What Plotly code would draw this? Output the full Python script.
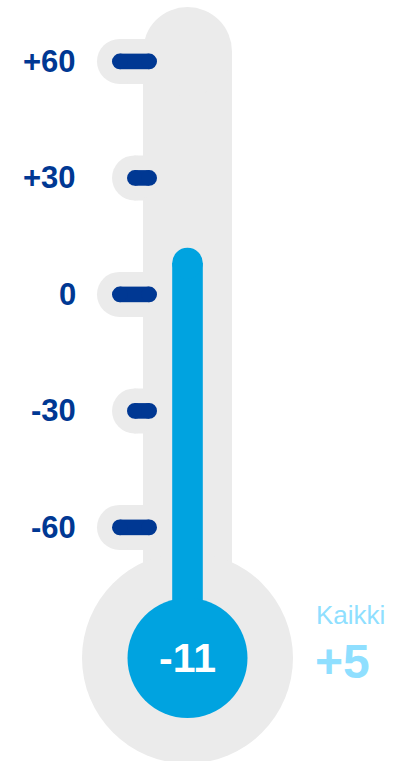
import plotly.graph_objects as go

# ---- data ----
tick_values = [60, 30, 0, -30, -60]
tick_labels = ["+60", "+30", "0", "-30", "-60"]
tick_long = [True, False, True, False, True]
mercury_level = 12          # top of the blue column (scale units)
main_value_label = "-11"
side_title = "Kaikki"
side_value_label = "+5"

# ---- geometry (pixels -> scale units) ----
W, H = 393, 761
K = 3.883            # pixels per scale unit
CX = 187.5           # thermometer centre (px)
Y0 = 294.4           # pixel row of scale value 0

def ux(px):
    return (px - CX) / K

def uy(py):
    return (Y0 - py) / K

def r(px):
    return px / K

GRAY = "#ebebeb"
BLUE = "#00a3e0"
DARK = "#003893"
LIGHT = "#8fdfff"

shapes = []

def circle(cx, cy, rad, color):
    shapes.append(dict(type="circle", xref="x", yref="y",
                       x0=cx - rad, x1=cx + rad, y0=cy - rad, y1=cy + rad,
                       fillcolor=color, line=dict(width=0), layer="below"))

def rect(x0, x1, y0, y1, color):
    shapes.append(dict(type="rect", xref="x", yref="y",
                       x0=x0, x1=x1, y0=y0, y1=y1,
                       fillcolor=color, line=dict(width=0), layer="below"))

# gray body: tube with round top + bulb
tube_half = r(44.5)
top_cap_y = uy(51.5)
bulb_y = uy(658)
rect(-tube_half, tube_half, bulb_y, top_cap_y, GRAY)
circle(0, top_cap_y, tube_half, GRAY)
circle(0, bulb_y, r(105.5), GRAY)

# tick mark pills (gray halo + dark pill)
for t, lng in zip(tick_values, tick_long):
    left = ux(97) if lng else ux(112)
    halo_r = r(22.5)
    rect(left + halo_r, 0, t - halo_r, t + halo_r, GRAY)
    circle(left + halo_r, t, halo_r, GRAY)
    pr = r(7.8)
    dl = left + r(15) + pr
    dr = ux(157) - pr
    rect(dl, dr, t - pr, t + pr, DARK)
    circle(dl, t, pr, DARK)
    circle(dr, t, pr, DARK)

# mercury column
col_half = r(15.3)
cap_center = mercury_level - col_half
rect(-col_half, col_half, bulb_y, cap_center, BLUE)
circle(0, cap_center, col_half, BLUE)
circle(0, bulb_y, r(60), BLUE)

annotations = []
for t, lab in zip(tick_values, tick_labels):
    annotations.append(dict(x=ux(78), y=t, xref="x", yref="y", text=lab,
                            showarrow=False, xanchor="right", yanchor="middle",
                            font=dict(family="Liberation Sans, Arial", size=31,
                                      color=DARK, weight="bold")))

annotations.append(dict(x=0, y=bulb_y, xref="x", yref="y", text=main_value_label,
                        showarrow=False, xanchor="center", yanchor="middle",
                        font=dict(family="Liberation Sans, Arial", size=41,
                                  color="white", weight="bold")))
annotations.append(dict(x=ux(314), y=uy(615), xref="x", yref="y", text=side_title,
                        showarrow=False, xanchor="left", yanchor="middle",
                        font=dict(family="Liberation Sans, Arial", size=26,
                                  color=LIGHT)))
annotations.append(dict(x=ux(313), y=uy(661), xref="x", yref="y", text=side_value_label,
                        showarrow=False, xanchor="left", yanchor="middle",
                        font=dict(family="Liberation Sans, Arial", size=48,
                                  color=LIGHT, weight="bold")))

fig = go.Figure()
fig.add_trace(go.Scatter(x=[0] * len(tick_values), y=tick_values, mode="markers",
                         marker=dict(opacity=0), hoverinfo="skip", showlegend=False))
fig.update_layout(
    width=W, height=H,
    margin=dict(l=0, r=0, t=0, b=0),
    paper_bgcolor="white", plot_bgcolor="white",
    xaxis=dict(range=[ux(0), ux(W)], visible=False, fixedrange=True),
    yaxis=dict(range=[uy(H), uy(0)], visible=False, fixedrange=True),
    shapes=shapes, annotations=annotations,
    showlegend=False,
)
fig.write_html("out.html", config={"displayModeBar": False},
               post_script="document.body.style.margin='0';document.body.style.overflow='hidden';")
